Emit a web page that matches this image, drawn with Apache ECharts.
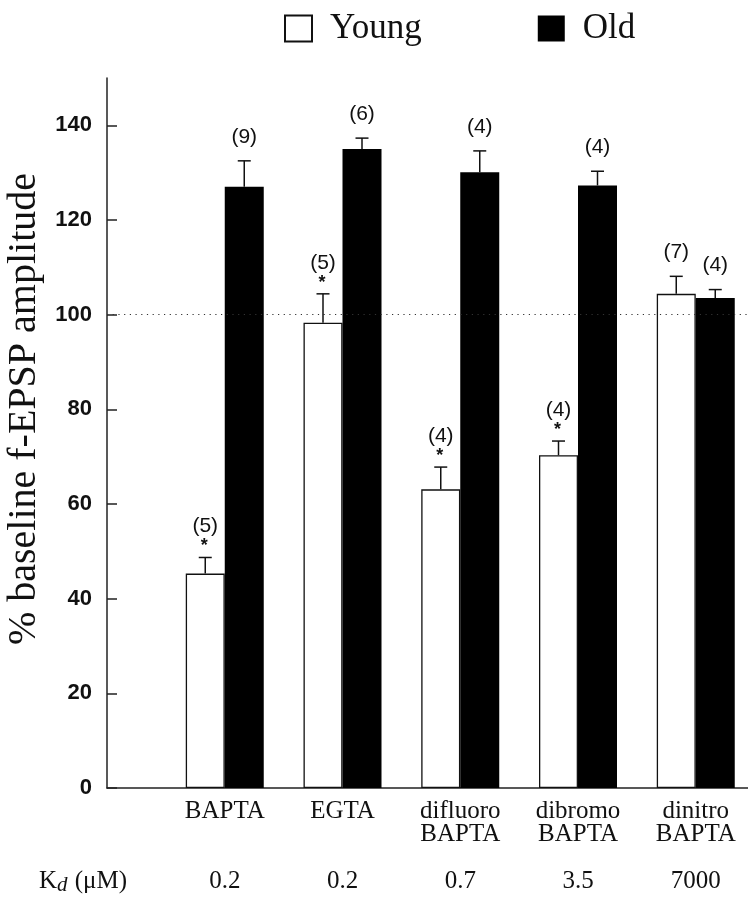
<!DOCTYPE html>
<html>
<head>
<meta charset="utf-8">
<script src="https://cdn.jsdelivr.net/npm/echarts@6/dist/echarts.min.js"></script>
<style>
html,body{margin:0;padding:0;background:#fff;}
#chart{width:748px;height:899px;}
</style>
</head>
<body>
<div id="chart"></div>
<script>
// ---- data ----
const categories = ['BAPTA', 'EGTA', 'difluoro\nBAPTA', 'dibromo\nBAPTA', 'dinitro\nBAPTA'];
const kdValues = ['0.2', '0.2', '0.7', '3.5', '7000'];
const youngMean = [45.3, 98.3, 63.1, 70.3, 104.4];
const youngErr  = [3.4, 6.1, 4.7, 3.0, 3.7];
const youngN    = [5, 5, 4, 4, 7];
const youngSig  = [true, true, true, true, false];
const oldMean   = [127.0, 135.0, 130.1, 127.3, 103.5];
const oldErr    = [5.5, 2.3, 4.5, 3.0, 1.8];
const oldN      = [9, 6, 4, 4, 4];
const oldSig    = [false, false, false, false, false];
const yTicks    = [0, 20, 40, 60, 80, 100, 120, 140];
const baseline  = 100;

// ---- layout helpers (axis padded with an empty slot on each side) ----
const axisCats = [''].concat(categories, ['']);
const kdCats = ['KD'].concat(kdValues, ['']);
const barW = 39;

function padData(arr) { return [null].concat(arr, [null]); }

function errData(mean, err, n, sig) {
  return mean.map((m, i) => [i + 1, m, err[i], n[i], sig[i] ? 1 : 0]);
}

function makeErr(dx) {
  return function (params, api) {
    const xi = api.value(0), m = api.value(1), e = api.value(2);
    const n = api.value(3), s = api.value(4);
    const p0 = api.coord([xi, m]);
    const p1 = api.coord([xi, m + e]);
    const x = p0[0] + dx;
    const children = [
      {type: 'line', shape: {x1: x, y1: p0[1], x2: x, y2: p1[1]}, style: {stroke: '#111', lineWidth: 1.5}},
      {type: 'line', shape: {x1: x - 6.5, y1: p1[1], x2: x + 6.5, y2: p1[1]}, style: {stroke: '#111', lineWidth: 1.5}}
    ];
    const labOff = s ? 31 : 24;
    children.push({type: 'text', x: x, y: p1[1] - labOff,
      style: {text: '(' + n + ')', font: '500 21px "Liberation Sans", Arial, sans-serif', fill: '#111', align: 'center', verticalAlign: 'middle'}});
    if (s) {
      children.push({type: 'text', x: x - 1, y: p1[1] - 11,
        style: {text: '*', font: 'bold 18px "Liberation Sans", Arial, sans-serif', fill: '#111', align: 'center', verticalAlign: 'middle'}});
    }
    return {type: 'group', children: children};
  };
}

const chart = echarts.init(document.getElementById('chart'));
const serif = '"Liberation Serif", "Times New Roman", serif';

chart.setOption({
  animation: false,
  backgroundColor: '#fff',
  legend: {
    data: ['Young', 'Old'],
    left: 279, top: 6,
    icon: 'rect',
    itemWidth: 27, itemHeight: 26,
    itemGap: 116,
    selectedMode: false,
    textStyle: {fontFamily: serif, fontSize: 35, color: '#111', padding: [0, 0, 0, 13]}
  },
  grid: {left: 107, top: 78, width: 706.5, bottom: 111, containLabel: false, outerBoundsMode: 'none'},
  xAxis: [
    {
      type: 'category', data: axisCats, boundaryGap: false,
      axisLine: {show: true, lineStyle: {color: '#222', width: 1.5}},
      axisTick: {show: false},
      splitLine: {show: false},
      axisLabel: {interval: 0, margin: 12, fontFamily: serif, fontSize: 25, color: '#111', lineHeight: 23}
    },
    {
      type: 'category', data: kdCats, boundaryGap: false, position: 'bottom', offset: 70,
      axisLine: {show: false}, axisTick: {show: false}, splitLine: {show: false},
      axisLabel: {
        interval: 0, margin: 12, fontFamily: serif, fontSize: 25, color: '#111', lineHeight: 23,
        formatter: function (v) {
          if (v === 'KD') return '{k|K}{d|d}{k| (\u03bcM)}{pad|}';
          return v;
        },
        rich: {
          k: {fontFamily: serif, fontSize: 25, color: '#111'},
          d: {fontFamily: serif, fontSize: 21, fontStyle: 'italic', color: '#111', padding: [8, 1, 0, 0]},
          pad: {width: 48}
        }
      }
    }
  ],
  yAxis: {
    type: 'value', min: 0, max: 150,
    name: '% baseline f-EPSP amplitude',
    nameLocation: 'middle', nameGap: 58, nameRotate: 90,
    nameTextStyle: {fontFamily: serif, fontSize: 40, color: '#111', padding: [0, 0, 0, 48]},
    axisLine: {show: true, lineStyle: {color: '#222', width: 1.5}},
    axisTick: {show: true, inside: true, length: 10, lineStyle: {color: '#222', width: 1.5}, customValues: yTicks},
    axisLabel: {margin: 15, fontFamily: '"Liberation Sans", Arial, sans-serif', fontWeight: 'bold', fontSize: 22, color: '#111', customValues: yTicks},
    splitLine: {show: false}
  },
  series: [
    {
      name: 'Young', type: 'bar', xAxisIndex: 0, barWidth: barW, barGap: '0%',
      data: padData(youngMean),
      itemStyle: {color: '#fff', borderColor: '#111', borderWidth: 1.3},
      markLine: {
        silent: true, symbol: 'none', label: {show: false},
        lineStyle: {color: '#333', type: [1.2, 4.5], width: 1.2},
        data: [{yAxis: baseline}]
      },
      z: 2
    },
    {
      name: 'Old', type: 'bar', xAxisIndex: 0, barWidth: barW, barGap: '0%',
      data: padData(oldMean),
      itemStyle: {color: '#000', borderColor: '#000', borderWidth: 0},
      z: 3
    },
    {
      type: 'custom', xAxisIndex: 0, renderItem: makeErr(-barW / 2),
      data: errData(youngMean, youngErr, youngN, youngSig), encode: {x: 0, y: 1}, z: 5, clip: false
    },
    {
      type: 'custom', xAxisIndex: 0, renderItem: makeErr(barW / 2),
      data: errData(oldMean, oldErr, oldN, oldSig), encode: {x: 0, y: 1}, z: 5, clip: false
    }
  ]
});
</script>
</body>
</html>
